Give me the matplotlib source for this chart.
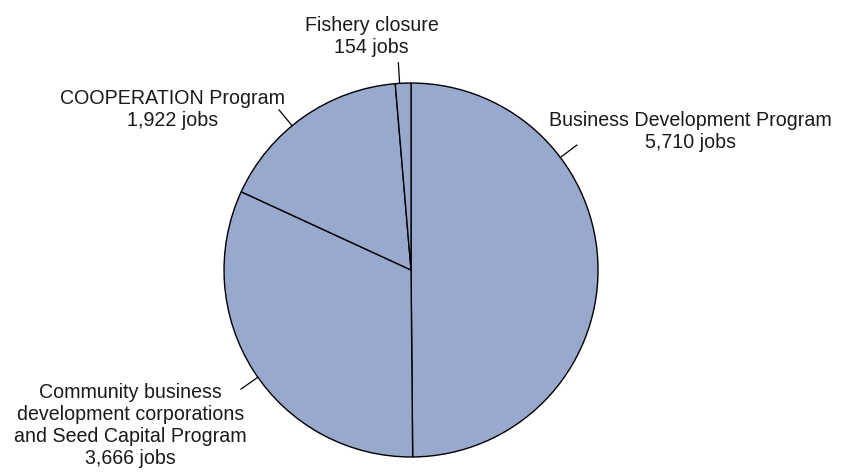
import numpy as np
import matplotlib.pyplot as plt

plt.rcParams['font.family'] = ['Liberation Sans', 'DejaVu Sans']

programs = ['Business Development Program',
            'Community business\ndevelopment corporations\nand Seed Capital Program',
            'COOPERATION Program',
            'Fishery closure']
jobs = [5710, 3666, 1922, 154]

# label anchor (x, y) and the angle where each leader line touches the rim
label_xy = [(1.495, 0.74), (-1.50, -0.83), (-1.273, 0.86), (-0.21, 1.25)]
leader_deg = [37, 215, 129.5, 93.5]

fig = plt.figure(figsize=(8.46, 4.74), dpi=100)
ax = fig.add_axes([0, 0, 1, 1])

wedges, _ = ax.pie(jobs, startangle=90, counterclock=False, radius=1,
                   colors=['#99a8cd'] * len(jobs),
                   wedgeprops=dict(edgecolor='black', linewidth=1.0))
ax.set_aspect('auto')
ax.set_xlim(-2.198, 2.326)
ax.set_ylim(-1.091, 1.444)
ax.axis('off')

for w, name, n, xy, deg in zip(wedges, programs, jobs, label_xy, leader_deg):
    a = np.deg2rad(deg)
    r1, r2 = 1.0, 1.11
    ax.plot([r1 * np.cos(a), r2 * np.cos(a)], [r1 * np.sin(a), r2 * np.sin(a)],
            color='black', lw=0.9)
    ax.text(xy[0], xy[1], f'{name}\n{n:,} jobs', ha='center', va='center',
            fontsize=14.1, color='#1a1a1a', linespacing=1.2)

fig.savefig('out.png', dpi=100)
